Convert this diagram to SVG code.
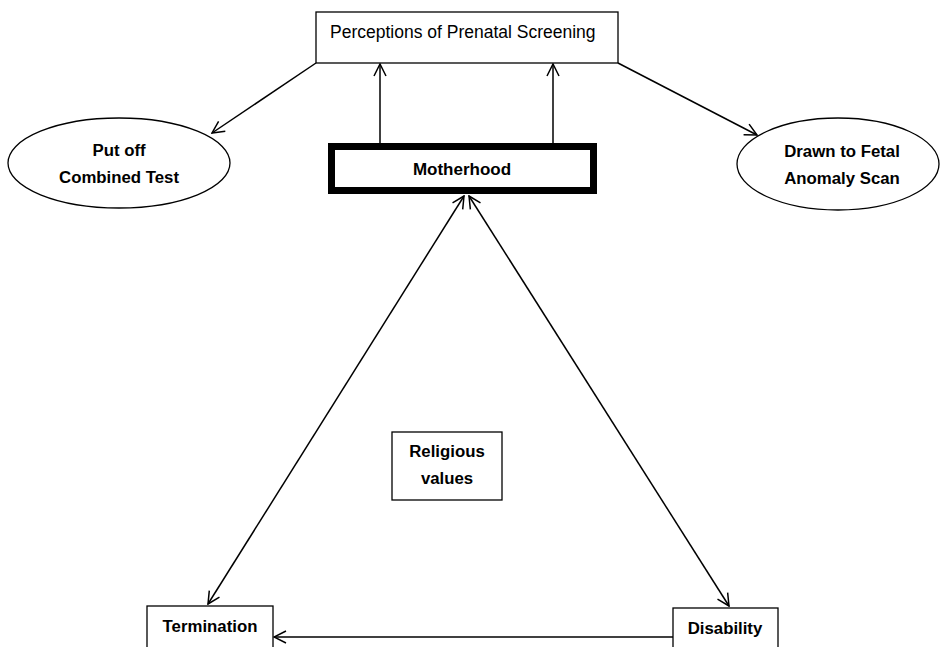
<svg xmlns="http://www.w3.org/2000/svg" width="940" height="647" viewBox="0 0 940 647">
<defs>
<style>
.box{fill:#fff;stroke:#000;stroke-width:1.3}
.t{font-family:"Liberation Sans",Arial,sans-serif;font-size:17.5px;fill:#000}
.b{font-family:"Liberation Sans",Arial,sans-serif;font-size:16.8px;font-weight:bold;fill:#000;text-anchor:middle}
.c{fill:none;stroke:#000;stroke-width:1.5}
</style>
<marker id="ah" viewBox="0 0 14 14" refX="13" refY="7" markerWidth="14" markerHeight="14" markerUnits="userSpaceOnUse" orient="auto-start-reverse">
<path d="M1,1 L13,7 L1,13" fill="none" stroke="#000" stroke-width="1.5"/>
</marker>
</defs>
<rect width="940" height="647" fill="#fff"/>
<g id="connectors">
<line class="c" x1="316" y1="63" x2="212" y2="133" marker-end="url(#ah)"/>
<line class="c" x1="618" y1="63" x2="757" y2="135" marker-end="url(#ah)"/>
<line class="c" x1="380" y1="143" x2="380" y2="64" marker-end="url(#ah)"/>
<line class="c" x1="553" y1="143" x2="553" y2="64" marker-end="url(#ah)"/>
<line class="c" x1="464" y1="196" x2="208" y2="604" marker-start="url(#ah)" marker-end="url(#ah)"/>
<line class="c" x1="469" y1="196" x2="729" y2="606" marker-start="url(#ah)" marker-end="url(#ah)"/>
<line class="c" x1="673" y1="637" x2="274" y2="637" marker-end="url(#ah)"/>
</g>
<g id="perceptions">
<rect class="box" x="316" y="12" width="302" height="51"/>
<text class="t" x="330" y="38">Perceptions of Prenatal Screening</text>
</g>
<g id="putoff">
<ellipse class="box" cx="119" cy="163" rx="111" ry="45"/>
<text class="b" x="119" y="156">Put off</text>
<text class="b" x="119" y="183">Combined Test</text>
</g>
<g id="motherhood">
<rect x="331.5" y="146.5" width="262" height="44" fill="#fff" stroke="#000" stroke-width="7"/>
<text class="b" x="462" y="175" style="font-size:17px">Motherhood</text>
</g>
<g id="drawn">
<ellipse class="box" cx="838" cy="164" rx="101" ry="46"/>
<text class="b" x="842" y="157">Drawn to Fetal</text>
<text class="b" x="842" y="184">Anomaly Scan</text>
</g>
<g id="religious">
<rect class="box" x="392" y="432" width="110" height="68"/>
<text class="b" x="447" y="457">Religious</text>
<text class="b" x="447" y="484">values</text>
</g>
<g id="termination">
<rect class="box" x="147" y="606" width="126" height="50"/>
<text class="b" x="210" y="632">Termination</text>
</g>
<g id="disability">
<rect class="box" x="673" y="608" width="105" height="50"/>
<text class="b" x="725" y="634">Disability</text>
</g>
</svg>
